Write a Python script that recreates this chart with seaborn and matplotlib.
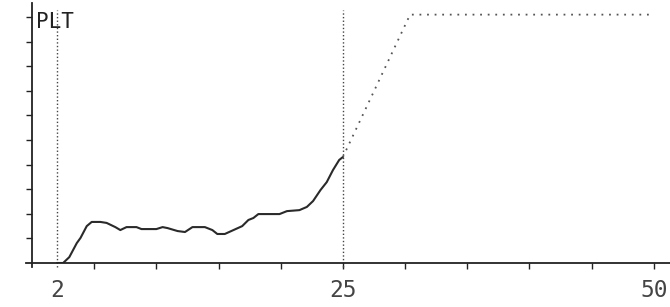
import numpy as np
import pandas as pd
import matplotlib
matplotlib.use('Agg')
import matplotlib.pyplot as plt
import seaborn as sns

# measured aggregation trace (time, %)
time = [2.0, 2.5, 3.0, 3.6, 3.9, 4.4, 4.8, 5.5, 6.0, 6.7, 7.1, 7.6, 8.4, 8.8, 10.0,
        10.5, 10.9, 11.7, 12.3, 12.9, 13.5, 13.9, 14.5, 14.9, 15.5, 16.2, 16.9, 17.4,
        17.8, 18.2, 19.9, 20.5, 21.5, 22.1, 22.6, 23.2, 23.7, 24.2, 24.7, 25.0]
plt_level = [0, 0, 2.4, 8.1, 10.2, 15.0, 16.7, 16.7, 16.3, 14.6, 13.4, 14.6, 14.6, 13.8,
             13.8, 14.6, 14.2, 13.0, 12.6, 14.6, 14.6, 14.6, 13.4, 11.8, 11.8, 13.4, 15.0,
             17.5, 18.3, 19.9, 19.9, 21.1, 21.5, 22.8, 25.2, 29.7, 32.9, 37.8, 41.9, 43.1]

# dotted extrapolation
proj_time = [25.0, 30.4, 49.7]
proj_level = [43.1, 101.0, 101.0]

markers = [2, 25]
tick_labels = {2: '2', 25: '25', 50: '50'}

trace = pd.DataFrame({'t': time, 'v': plt_level})
proj = pd.DataFrame({'t': proj_time, 'v': proj_level})

sns.set_style('white')
plt.rcParams['font.family'] = ['DejaVu Sans Mono', 'DejaVu Sans']

fig = plt.figure(figsize=(6.7, 3.07), dpi=100)
ax = fig.add_axes([0.0385, 0.1433, 0.9615, 0.8467])

sns.lineplot(data=trace, x='t', y='v', ax=ax, color='#2a2a2a', linewidth=1.5)
sns.lineplot(data=proj, x='t', y='v', ax=ax, color='#555555', linewidth=1.3,
             linestyle=(0, (1, 3.2)))

for m in markers:
    ax.plot([m, m], [-1.5, 103], color='#444444', linewidth=1.0,
            linestyle=(0, (1, 1.6)), clip_on=False)

ax.text(0.35, 102, 'PLT', ha='left', va='top', fontsize=15, color='#222222')

ax.set_xlim(-0.5, 51.3)
ax.set_ylim(0, 105.7)
ax.spines['left'].set_position(('data', 0))
ax.spines['left'].set_bounds(-1.5, 105.7)
for s in ['top', 'right']:
    ax.spines[s].set_visible(False)
ax.spines['left'].set_color('#222222')
ax.spines['bottom'].set_color('#222222')
ax.spines['left'].set_linewidth(1.3)
ax.spines['bottom'].set_linewidth(1.3)

ax.set_xticks(np.arange(5, 51, 5))
ax.set_xticklabels([])
ax.set_yticks(np.arange(10, 101, 10))
ax.set_yticklabels([])
ax.tick_params(axis='both', direction='out', length=4, width=1, color='#222222',
               bottom=True, left=True)

for k, lab in tick_labels.items():
    ax.text(k, -6.5, lab, ha='center', va='top', fontsize=16.5, color='#444444')

ax.set_xlabel('')
ax.set_ylabel('')

fig.savefig('out.png', dpi=100)
